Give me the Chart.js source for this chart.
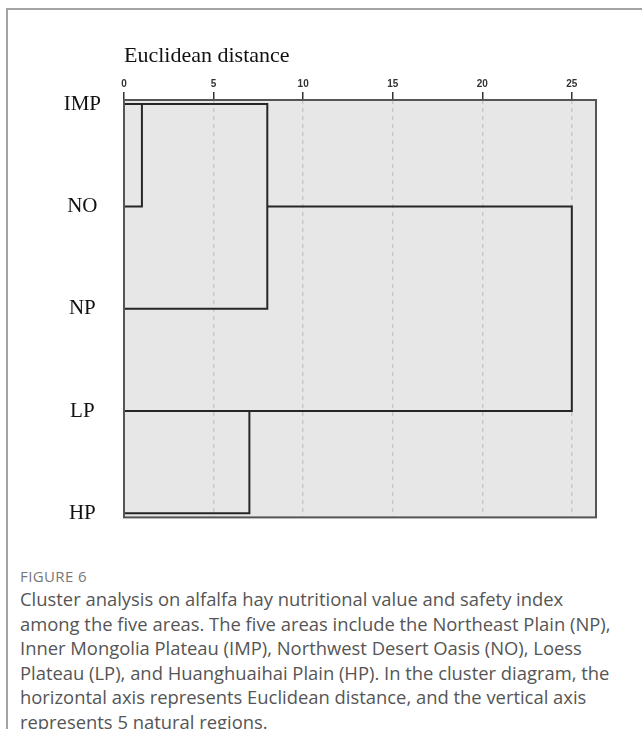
<!DOCTYPE html>
<html>
<head>
<meta charset="utf-8">
<script src="https://cdn.jsdelivr.net/npm/chart.js@4.4.1/dist/chart.umd.min.js"></script>
<style>
  html, body { margin: 0; padding: 0; background: #fff; width: 642px; height: 729px; overflow: hidden; }
  #frame { position: absolute; left: 6px; top: 8px; width: 650px; height: 740px;
           border-top: 2px solid #a3a3a3; border-left: 2px solid #a3a3a3; }
  #wrap { position: absolute; left: 0; top: 0; width: 642px; height: 553px; }
  #caption { position: absolute; left: 20px; top: 565px; font-family: "Open Sans", Lato, sans-serif;
             color: #555; white-space: nowrap; }
  #caption .fig { font-size: 15px; color: #777; line-height: 22px; letter-spacing: 0.4px; }
  #caption .txt { font-size: 18.4px; line-height: 24.5px; }
</style>
</head>
<body>
<div id="frame"></div>
<div id="wrap"><canvas id="c" width="642" height="553"></canvas></div>
<div id="caption">
  <div class="fig">FIGURE 6</div>
  <div class="txt">Cluster analysis on alfalfa hay nutritional value and safety index<br>among the five areas. The five areas include the Northeast Plain (NP),<br>Inner Mongolia Plateau (IMP), Northwest Desert Oasis (NO), Loess<br>Plateau (LP), and Huanghuaihai Plain (HP). In the cluster diagram, the<br>horizontal axis represents Euclidean distance, and the vertical axis<br>represents 5 natural regions.</div>
</div>
<script>
// ---- data ----
const regions = ['IMP', 'NO', 'NP', 'LP', 'HP'];
const xTicks = [0, 5, 10, 15, 20, 25];
// merges: cluster joined at row A (starting at startA) and row B (starting at startB) at distance
const mergeRowA   = ['NO', 'IMP', 'HP', 'NO'];
const mergeStartA = [0, 1, 0, 8];
const mergeRowB   = ['IMP', 'NP', 'LP', 'LP'];
const mergeStartB = [0, 0, 0, 7];
const mergeDist   = [1, 8, 7, 25];
const xMax = 26.35;

const idx = r => regions.indexOf(r);
const datasets = mergeDist.map((d, i) => ({
  data: [
    { x: mergeStartA[i], y: idx(mergeRowA[i]) },
    { x: d, y: idx(mergeRowA[i]) },
    { x: d, y: idx(mergeRowB[i]) },
    { x: mergeStartB[i], y: idx(mergeRowB[i]) }
  ],
  showLine: true,
  borderColor: '#262626',
  borderWidth: 2,
  pointRadius: 0,
  pointHoverRadius: 0,
  tension: 0,
  fill: false
}));

const plotBg = {
  id: 'plotBg',
  beforeDraw(chart) {
    const { ctx, chartArea: a } = chart;
    ctx.save();
    ctx.fillStyle = '#e7e7e7';
    ctx.fillRect(a.left, a.top, a.right - a.left, a.bottom - a.top);
    ctx.restore();
  },
  afterDatasetsDraw(chart) {
    const { ctx, chartArea: a } = chart;
    ctx.save();
    ctx.strokeStyle = '#555';
    ctx.lineWidth = 2;
    ctx.strokeRect(a.left, a.top, a.right - a.left, a.bottom - a.top);
    ctx.restore();
  }
};

new Chart(document.getElementById('c'), {
  type: 'scatter',
  data: { datasets },
  plugins: [plotBg],
  options: {
    responsive: false,
    animation: false,
    layout: { padding: { left: 0, right: 46, top: 43, bottom: 0 } },
    plugins: { legend: { display: false }, tooltip: { enabled: false }, title: { display: false } },
    scales: {
      x: {
        type: 'linear',
        position: 'top',
        min: 0,
        max: xMax,
        afterBuildTicks(scale) { scale.ticks = xTicks.map(v => ({ value: v })); },
        afterFit(scale) { scale.height = 57; },
        title: {
          display: true,
          text: 'Euclidean distance',
          align: 'start',
          color: '#111',
          font: { family: '"Liberation Serif", "DejaVu Serif", serif', size: 22 },
          padding: 0
        },
        ticks: {
          color: '#333',
          padding: 2,
          maxRotation: 0,
          font: { family: '"Liberation Sans Narrow", "Liberation Sans", Arial, sans-serif', size: 10, weight: 'bold' }
        },
        grid: {
          display: true,
          drawOnChartArea: true,
          drawTicks: true,
          tickLength: 8,
          tickColor: '#333',
          tickWidth: 1.5,
          tickBorderDash: [],
          lineWidth: 1.5,
          color: ctx => (ctx.tick && ctx.tick.value === 0) ? 'rgba(0,0,0,0)' : '#c9c9c9'
        },
        border: { display: false, dash: [4, 4] }
      },
      y: {
        type: 'linear',
        reverse: true,
        min: -0.04,
        max: 4.04,
        afterBuildTicks(scale) { scale.ticks = regions.map((r, i) => ({ value: i })); },
        afterFit(scale) { scale.width = 124; },
        ticks: {
          color: '#111',
          padding: 23,
          crossAlign: 'center',
          font: { family: '"Liberation Serif", "DejaVu Serif", serif', size: 21 },
          callback: v => regions[v]
        },
        grid: { display: false, drawTicks: false },
        border: { display: false }
      }
    }
  }
});
</script>
</body>
</html>
